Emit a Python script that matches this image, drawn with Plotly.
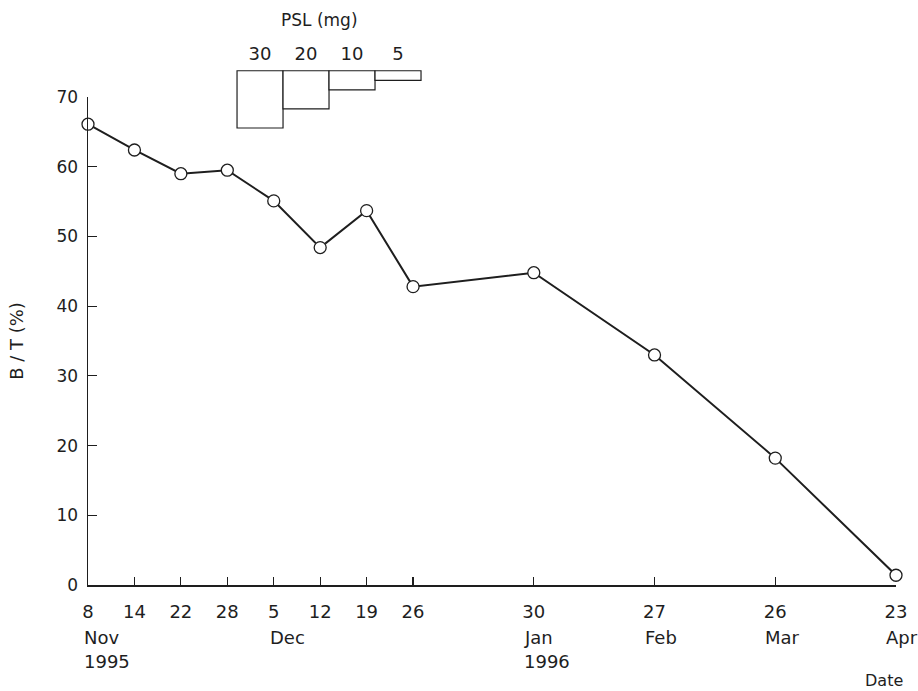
import plotly.graph_objects as go

# ---- data ----
day_labels = ["8", "14", "22", "28", "5", "12", "19", "26", "30", "27", "26", "23"]
month_labels = ["Nov", "", "", "", "Dec", "", "", "", "Jan", "Feb", "Mar", "Apr"]
year_labels = ["1995", "", "", "", "", "", "", "", "1996", "", "", ""]
axis_pos = [0, 1, 2, 3, 4, 5, 6, 7, 9.6, 12.2, 14.8, 17.4]
bt_percent = [66.1, 62.4, 59.0, 59.5, 55.1, 48.4, 53.7, 42.8, 44.8, 33.0, 18.2, 1.4]

psl_labels = ["30", "20", "10", "5"]
psl_dose = [30, 20, 10, 5]

FONT = "DejaVu Sans"
INK = "#1e1e1e"

fig = go.Figure()

fig.add_trace(go.Scatter(
    x=axis_pos, y=bt_percent, mode="lines+markers",
    line=dict(color=INK, width=2),
    marker=dict(symbol="circle", size=12, color="white", line=dict(color=INK, width=1.3)),
    cliponaxis=False, showlegend=False, hoverinfo="skip",
))

fig.add_trace(go.Bar(
    x=list(range(len(psl_dose))), y=psl_dose, base=0, width=1,
    marker=dict(color="white", line=dict(color=INK, width=1.2)),
    xaxis="x2", yaxis="y2", cliponaxis=False, showlegend=False, hoverinfo="skip",
))

annotations = []
for i, m in enumerate(month_labels):
    if m:
        annotations.append(dict(
            x=axis_pos[i], y=0, xref="x", yref="paper", text=m, showarrow=False,
            xanchor="left", yanchor="middle", xshift=-len(day_labels[i]) * 5.7 - 0.5, yshift=-52,
            font=dict(family=FONT, size=18, color=INK),
        ))
for i, yv in enumerate(year_labels):
    if yv:
        annotations.append(dict(
            x=axis_pos[i], y=0, xref="x", yref="paper", text=yv, showarrow=False,
            xanchor="left", yanchor="middle", xshift=-len(day_labels[i]) * 5.7 - 0.5, yshift=-76,
            font=dict(family=FONT, size=18, color=INK),
        ))
annotations.append(dict(
    x=1, y=0, xref="paper", yref="paper", text="Date", showarrow=False,
    xanchor="right", yanchor="middle", xshift=9, yshift=-95,
    font=dict(family=FONT, size=16, color=INK),
))
annotations.append(dict(
    x=0.287, y=1.0367, xref="paper", yref="paper", text="PSL (mg)", showarrow=False,
    xanchor="center", yanchor="middle",
    font=dict(family=FONT, size=17, color=INK),
))

fig.update_layout(
    width=918, height=691,
    margin=dict(l=88, r=22, t=40, b=106),
    paper_bgcolor="white", plot_bgcolor="white",
    font=dict(family=FONT, color=INK),
    xaxis=dict(
        range=[0, 17.4], tickmode="array", tickvals=axis_pos, ticktext=day_labels,
        ticks="inside", ticklen=8, tickwidth=1.2, tickcolor=INK,
        showline=True, linecolor=INK, linewidth=1.5, showgrid=False, zeroline=False,
        tickfont=dict(family=FONT, size=18, color=INK), ticklabelstandoff=10,
        anchor="y", fixedrange=True,
    ),
    yaxis=dict(
        domain=[0, 0.8954], range=[0, 70], tickmode="array",
        tickvals=[0, 10, 20, 30, 40, 50, 60, 70],
        ticks="inside", ticklen=9, tickwidth=1.2, tickcolor=INK,
        showline=True, linecolor=INK, linewidth=1.5, showgrid=False, zeroline=False,
        tickfont=dict(family=FONT, size=17, color=INK), ticklabelstandoff=5,
        title=dict(text="B / T (%)", font=dict(family=FONT, size=18, color=INK), standoff=28),
        anchor="x", fixedrange=True,
    ),
    xaxis2=dict(
        domain=[0.1816, 0.4150], anchor="y2", side="top",
        range=[-0.55, 3.55], tickmode="array", tickvals=list(range(len(psl_labels))), ticktext=psl_labels,
        ticks="", showline=False, showgrid=False, zeroline=False,
        tickfont=dict(family=FONT, size=18, color=INK), ticklabelstandoff=4,
        fixedrange=True,
    ),
    yaxis2=dict(
        domain=[0.8350, 0.9471], anchor="x2", range=[31, -1],
        visible=False, fixedrange=True,
    ),
    annotations=annotations,
    bargap=0,
)

fig.write_html(
    "out.html",
    config={"displayModeBar": False, "staticPlot": True},
    post_script="document.body.style.margin='0';document.body.style.overflow='hidden';",
)
